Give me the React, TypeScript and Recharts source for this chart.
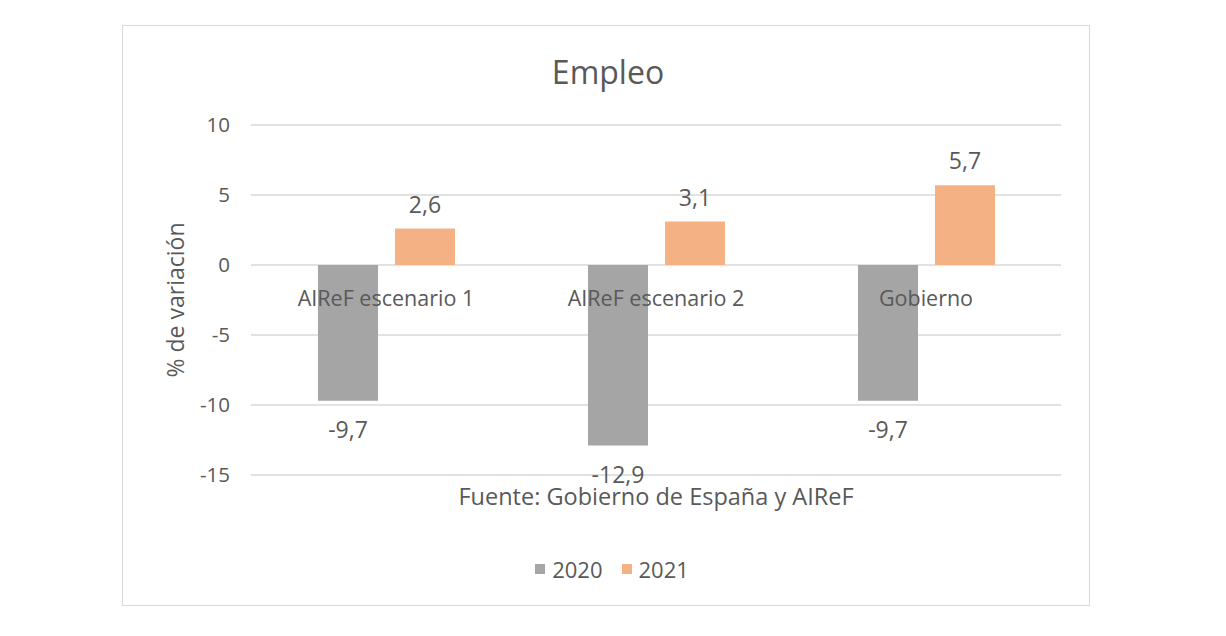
import { BarChart, Bar, XAxis, YAxis, CartesianGrid, LabelList, Label } from "recharts";

const categories = ["AIReF escenario 1", "AIReF escenario 2", "Gobierno"];
const values2020 = [-9.7, -12.9, -9.7];
const values2021 = [2.6, 3.1, 5.7];
const yTicks = [-15, -10, -5, 0, 5, 10];

const data = categories.map((name, i) => ({
  name,
  y2020: values2020[i],
  y2021: values2021[i],
}));

const FONT = "'Open Sans', sans-serif";
const TEXT = "#595959";
const W = 966;
const H = 579;
const MARGIN = { top: 99, right: 28, bottom: 90, left: 0 };
const X_AXIS_H = 40;
const Y_AXIS_W = 128;
const Y_MIN = -15;
const Y_MAX = 10;
const PLOT_H = H - MARGIN.top - MARGIN.bottom - X_AXIS_H;
const ZERO_Y = MARGIN.top + (PLOT_H * Y_MAX) / (Y_MAX - Y_MIN);

const fmt = (v: number) => v.toFixed(1).replace(".", ",");

function CategoryTick(props: any) {
  const { x, payload } = props;
  return (
    <text
      x={x}
      y={ZERO_Y + 32}
      textAnchor="middle"
      dominantBaseline="central"
      fill={TEXT}
      fontSize={21.5}
      fontFamily={FONT}
    >
      {payload.value}
    </text>
  );
}

function ValueLabel(props: any) {
  const { x, y, width, height, value } = props;
  const top = Math.min(y, y + height);
  const bottom = Math.max(y, y + height);
  const cy = value >= 0 ? top - 25 : bottom + 28;
  return (
    <text
      x={x + width / 2}
      y={cy}
      textAnchor="middle"
      dominantBaseline="central"
      fill={TEXT}
      fontSize={23}
      fontFamily={FONT}
    >
      {fmt(value)}
    </text>
  );
}

const legendItems = [
  { label: "2020", color: "#A5A5A5" },
  { label: "2021", color: "#F4B183" },
];

export default function App() {
  return (
    <div
      style={{
        position: "relative",
        marginLeft: 114,
        marginTop: 17,
        width: W,
        height: H,
        border: "1px solid #d9d9d9",
        fontFamily: FONT,
      }}
    >
      <div
        style={{
          position: "absolute",
          top: 25,
          left: 2,
          width: W,
          textAlign: "center",
          fontSize: 32,
          color: TEXT,
          lineHeight: "42px",
        }}
      >
        Empleo
      </div>
      <BarChart
        width={W}
        height={H}
        data={data}
        margin={MARGIN}
        barSize={60}
        barGap={17}
      >
        <CartesianGrid horizontal vertical={false} stroke="#d9d9d9" strokeWidth={1.5} />
        <YAxis
          width={Y_AXIS_W}
          domain={[Y_MIN, Y_MAX]}
          ticks={yTicks}
          axisLine={false}
          tickLine={false}
          tickSize={0}
          tickMargin={21}
          tick={{ fill: TEXT, fontSize: 20.5, fontFamily: FONT }}
        >
          <Label
            content={(p: any) => {
              const vb = p.viewBox || {};
              const cx = (vb.x || 0) + 52;
              const cy = (vb.y || 0) + (vb.height || 0) / 2;
              return (
                <text
                  x={cx}
                  y={cy}
                  transform={`rotate(-90 ${cx} ${cy})`}
                  textAnchor="middle"
                  dominantBaseline="central"
                  fill={TEXT}
                  fontSize={23}
                  fontFamily={FONT}
                >
                  % de variación
                </text>
              );
            }}
          />
        </YAxis>
        <Bar dataKey="y2020" name="2020" fill="#A5A5A5" isAnimationActive={false}>
          <LabelList dataKey="y2020" content={ValueLabel} />
        </Bar>
        <Bar dataKey="y2021" name="2021" fill="#F4B183" isAnimationActive={false}>
          <LabelList dataKey="y2021" content={ValueLabel} />
        </Bar>
        <XAxis
          dataKey="name"
          height={X_AXIS_H}
          axisLine={false}
          tickLine={false}
          tick={<CategoryTick />}
        >
          <Label
            content={(p: any) => {
              const vb = p.viewBox || {};
              return (
                <text
                  x={(vb.x || 0) + (vb.width || 0) / 2}
                  y={(vb.y || 0) + 21}
                  textAnchor="middle"
                  dominantBaseline="central"
                  fill={TEXT}
                  fontSize={23.5}
                  fontFamily={FONT}
                >
                  Fuente: Gobierno de España y AIReF
                </text>
              );
            }}
          />
        </XAxis>
      </BarChart>
      <div
        style={{
          position: "absolute",
          top: 529,
          left: 6,
          width: W,
          display: "flex",
          justifyContent: "center",
          gap: 19,
          fontSize: 22,
          color: TEXT,
          lineHeight: "28px",
        }}
      >
        {legendItems.map((it) => (
          <div key={it.label} style={{ display: "flex", alignItems: "center", gap: 7 }}>
            <span style={{ width: 10, height: 10, background: it.color, display: "inline-block" }} />
            <span>{it.label}</span>
          </div>
        ))}
      </div>
    </div>
  );
}
